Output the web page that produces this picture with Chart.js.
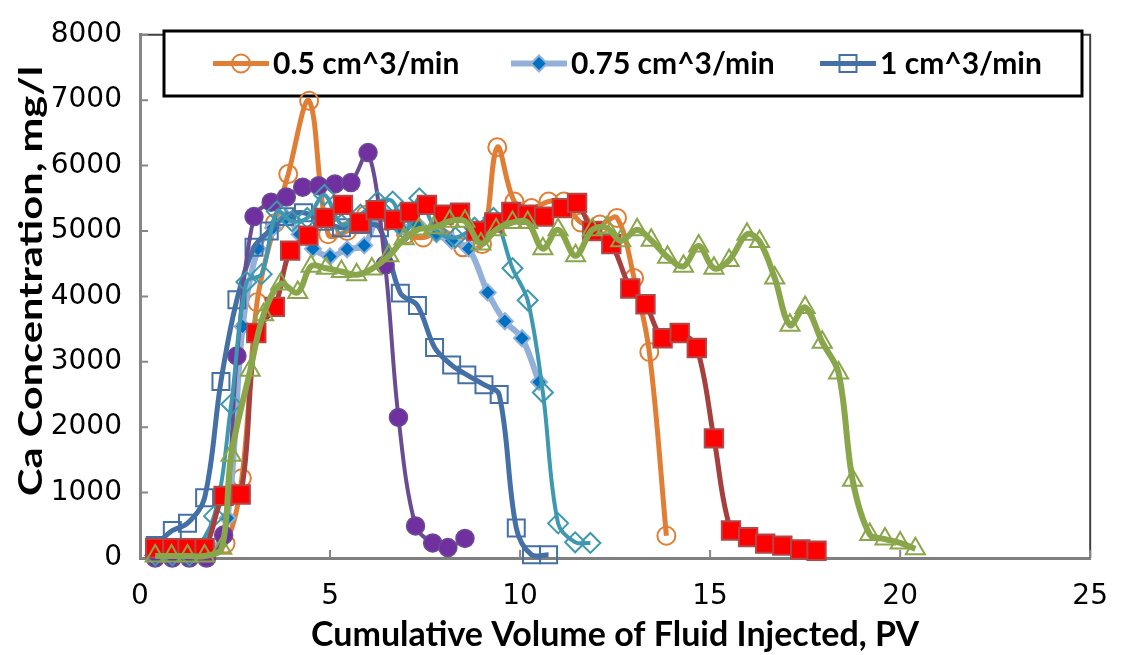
<!DOCTYPE html>
<html>
<head>
<meta charset="utf-8">
<title>Ca concentration vs PV</title>
<script src="https://cdn.jsdelivr.net/npm/chart.js@4.4.1/dist/chart.umd.min.js"></script>
<style>
  html, body { margin: 0; padding: 0; background: #fff; }
  #caChart { display: block; }
</style>
</head>
<body>
<canvas id="caChart" width="1130" height="655"></canvas>
<script>
// axis ticks
const xTicks = [0, 5, 10, 15, 20, 25];
const yTicks = [0, 1000, 2000, 3000, 4000, 5000, 6000, 7000, 8000];

const xTitle = 'Cumulative Volume of Fluid Injected, PV';
const yTitle = 'Ca Concentration, mg/l';

// legend names (only the first three runs are listed)
const rateLabels = ['0.5 cm^3/min', '0.75 cm^3/min', '1 cm^3/min'];

// 0.5 cm^3/min
const pvOrange = [0.4, 0.85, 1.3, 1.75, 2.25, 2.68, 3.08, 3.55, 3.9, 4.45, 4.95, 5.45, 5.95, 6.5, 7.0, 7.45, 8.0, 8.5, 9.0, 9.4, 9.85, 10.3, 10.75, 11.15, 11.6, 12.1, 12.55, 13.0, 13.4, 13.85];
const caOrange = [150, 150, 150, 150, 220, 1220, 3910, 5120, 5870, 6990, 4950, 5000, 5250, 5150, 4950, 4900, 5000, 4750, 4800, 6280, 5450, 5350, 5450, 5450, 5130, 5100, 5200, 4280, 3150, 340];

// 0.75 cm^3/min
const pvLight = [0.4, 0.85, 1.3, 1.85, 2.3, 2.7, 3.1, 3.5, 3.85, 4.2, 4.55, 5.0, 5.45, 5.9, 6.35, 6.85, 7.3, 7.8, 8.2, 8.65, 9.15, 9.6, 10.05, 10.5];
const caLight = [50, 50, 50, 80, 610, 3540, 4730, 5050, 5200, 4950, 4730, 4610, 4720, 4780, 5300, 5050, 5100, 4950, 4850, 4730, 4060, 3620, 3360, 2690];

// 1 cm^3/min
const pvDark = [0.4, 0.85, 1.25, 1.7, 2.13, 2.55, 3.0, 3.4, 3.8, 4.3, 4.8, 5.3, 5.8, 6.3, 6.85, 7.3, 7.75, 8.2, 8.6, 9.05, 9.45, 9.9, 10.3, 10.75];
const caDark = [190, 420, 530, 920, 2700, 3950, 4750, 5000, 5220, 5280, 5150, 5050, 5100, 5050, 4050, 3860, 3220, 2950, 2800, 2650, 2500, 460, 50, 50];

// further runs
const pvPurple = [0.4, 0.85, 1.3, 1.75, 2.2, 2.55, 3.0, 3.45, 3.85, 4.28, 4.7, 5.13, 5.55, 6.0, 6.45, 6.8, 7.25, 7.7, 8.1, 8.55];
const caPurple = [0, 0, 0, 0, 350, 3090, 5220, 5440, 5520, 5670, 5690, 5720, 5740, 6200, 4480, 2150, 490, 230, 160, 300];

const pvTeal = [0.4, 0.85, 1.3, 1.95, 2.4, 2.8, 3.2, 3.6, 4.0, 4.4, 4.85, 5.3, 5.8, 6.25, 6.65, 7.0, 7.35, 7.8, 8.3, 8.8, 9.3, 9.8, 10.2, 10.6, 11.0, 11.45, 11.85];
const caTeal = [40, 40, 40, 640, 2350, 4220, 4340, 5300, 5150, 5200, 5550, 5100, 5250, 5450, 5450, 5000, 5500, 5000, 4900, 5050, 5200, 4430, 3940, 2530, 530, 240, 230];

const pvRed = [0.4, 0.85, 1.25, 1.7, 2.2, 2.65, 3.06, 3.55, 3.95, 4.43, 4.86, 5.34, 5.78, 6.2, 6.69, 7.1, 7.55, 7.99, 8.42, 8.85, 9.32, 9.77, 10.2, 10.63, 11.1, 11.5, 11.9, 12.4, 12.9, 13.3, 13.75, 14.2, 14.65, 15.1, 15.55, 16.0, 16.45, 16.9, 17.37, 17.8];
const caRed = [150, 150, 150, 150, 950, 970, 3440, 3840, 4700, 4930, 5200, 5400, 5130, 5320, 5170, 5290, 5400, 5250, 5280, 5000, 5130, 5290, 5250, 5220, 5350, 5430, 5000, 4800, 4120, 3880, 3360, 3440, 3210, 1830, 420, 320, 220, 190, 130, 110];

const pvGreen = [0.4, 0.83, 1.25, 1.7, 2.15, 2.4, 2.9, 3.25, 3.7, 4.15, 4.5, 4.9, 5.3, 5.7, 6.1, 6.55, 6.95, 7.34, 7.73, 8.15, 8.55, 8.97, 9.37, 9.8, 10.2, 10.6, 11.0, 11.46, 11.9, 12.28, 12.65, 13.08, 13.45, 13.88, 14.3, 14.7, 15.1, 15.5, 15.97, 16.3, 16.7, 17.1, 17.5, 17.95, 18.38, 18.75, 19.2, 19.6, 20.0, 20.4];
const caGreen = [30, 30, 30, 30, 150, 1570, 2870, 3720, 4190, 4060, 4460, 4430, 4380, 4330, 4420, 4620, 4880, 5030, 5050, 5150, 5150, 4800, 5020, 5130, 5130, 4730, 5020, 4620, 5020, 5050, 4850, 5020, 4860, 4600, 4460, 4770, 4430, 4550, 4950, 4840, 4280, 3560, 3830, 3300, 2830, 1190, 360, 290, 230, 140];

const NONE = 'rgba(255,255,255,0)';

function pairs(xs, ys) {
    return xs.map((x, i) => ({ x: x, y: ys[i] }));
}

function series(label, xs, ys, line, width, style, radius, fill, edge, edgeWidth) {
    return {
        label: label,
        data: pairs(xs, ys),
        borderColor: line,
        borderWidth: width,
        pointStyle: style,
        pointRadius: radius,
        pointBackgroundColor: fill,
        pointBorderColor: edge,
        pointBorderWidth: edgeWidth,
        tension: 0.35,
        clip: false
    };
}

const datasets = [
    series(rateLabels[0], pvOrange, caOrange, '#E07E35', 5, 'circle', 9, NONE, '#E07E35', 2),
    series(rateLabels[1], pvLight, caLight, '#93B1D8', 6, 'rectRot', 8, '#0070C0', '#93B1D8', 2),
    series(rateLabels[2], pvDark, caDark, '#4470A6', 5, 'rect', 12, NONE, '#4470A6', 2),
    series('', pvPurple, caPurple, '#6A4C93', 4, 'circle', 9, '#7030A0', '#6A4C93', 1.5),
    series('', pvTeal, caTeal, '#3E98B0', 4, 'rectRot', 10, NONE, '#3E98B0', 2),
    series('', pvRed, caRed, '#A6403E', 5, 'rect', 13, '#FF0000', '#B04848', 2),
    series('', pvGreen, caGreen, '#89A64B', 6, 'triangle', 11, NONE, '#89A64B', 2)
];
// later runs sit on top
datasets.forEach((d, i) => { d.order = datasets.length - i; });

// frame on top/right and tick marks pointing into the plot
const plotFrame = {
    id: 'plotFrame',
    beforeDatasetsDraw(chart) {
        const { ctx, chartArea: a, scales } = chart;
        ctx.save();
        ctx.strokeStyle = '#404040';
        ctx.lineWidth = 2;
        ctx.beginPath();
        ctx.moveTo(a.left, a.top);
        ctx.lineTo(a.right, a.top);
        ctx.lineTo(a.right, a.bottom);
        ctx.stroke();

        ctx.strokeStyle = '#868686';
        ctx.lineWidth = 2;
        ctx.beginPath();
        yTicks.forEach(v => {
            const py = scales.y.getPixelForValue(v);
            ctx.moveTo(a.left, py);
            ctx.lineTo(a.left + 8, py);
        });
        xTicks.forEach(v => {
            const px = scales.x.getPixelForValue(v);
            ctx.moveTo(px, a.bottom);
            ctx.lineTo(px, a.bottom - 8);
        });
        ctx.stroke();
        ctx.restore();
    }
};

// boxed legend inside the plot area
const legendBox = {
    id: 'legendBox',
    beforeDatasetsDraw(chart) {
        const ctx = chart.ctx;
        const top = 31, h = 65, left = 164, w = 918;
        const cy = top + h / 2;
        const slots = [213, 511, 820];
        ctx.save();
        ctx.fillStyle = '#fff';
        ctx.fillRect(left, top, w, h);
        ctx.strokeStyle = '#000';
        ctx.lineWidth = 3;
        ctx.strokeRect(left, top, w, h);

        for (let i = 0; i < 3; i++) {
            const ds = chart.data.datasets[i];
            const sx = slots[i];
            ctx.strokeStyle = ds.borderColor;
            ctx.lineWidth = ds.borderWidth;
            ctx.beginPath();
            ctx.moveTo(sx, cy);
            ctx.lineTo(sx + 56, cy);
            ctx.stroke();

            ctx.fillStyle = ds.pointBackgroundColor;
            ctx.strokeStyle = ds.pointBorderColor;
            ctx.lineWidth = ds.pointBorderWidth;
            Chart.helpers.drawPoint(ctx, {
                pointStyle: ds.pointStyle,
                radius: ds.pointRadius,
                rotation: 0,
                borderWidth: ds.pointBorderWidth
            }, sx + 28, cy);

            ctx.fillStyle = '#000';
            ctx.font = 'bold 30px Lato';
            ctx.textBaseline = 'middle';
            ctx.textAlign = 'left';
            ctx.fillText(ds.label, sx + 60, cy + 1);
        }
        ctx.restore();
    }
};

// vertical axis title, stretched along its length
const yTitleDraw = {
    id: 'yTitleDraw',
    afterDraw(chart) {
        const ctx = chart.ctx;
        ctx.save();
        ctx.font = 'bold 33px Lato';
        const w = ctx.measureText(yTitle).width;
        ctx.translate(31, 281);
        ctx.rotate(-Math.PI / 2);
        ctx.scale(430 / w, 1);
        ctx.fillStyle = '#000';
        ctx.textAlign = 'center';
        ctx.textBaseline = 'middle';
        ctx.fillText(yTitle, 0, 0);
        ctx.restore();
    }
};

const tickFont = { family: 'DejaVu Sans', size: 28 };

new Chart(document.getElementById('caChart'), {
    type: 'line',
    data: { datasets: datasets },
    options: {
        responsive: false,
        animation: false,
        devicePixelRatio: 1,
        layout: { padding: { top: 20, right: 30, left: 0, bottom: 0 } },
        plugins: {
            legend: { display: false },
            tooltip: { enabled: false }
        },
        scales: {
            x: {
                type: 'linear',
                min: 0,
                max: 25,
                afterBuildTicks: s => { s.ticks = xTicks.map(v => ({ value: v })); },
                afterFit: s => { s.height = 97; },
                grid: { display: false, drawTicks: false },
                border: { display: true, color: '#7F7F7F', width: 3 },
                ticks: { font: tickFont, color: '#000', padding: 22, maxRotation: 0, callback: v => String(v) },
                title: {
                    display: true,
                    text: xTitle,
                    font: { family: 'Lato', size: 34, weight: 'bold' },
                    color: '#000',
                    padding: { top: 0, bottom: 0 }
                }
            },
            y: {
                type: 'linear',
                min: 0,
                max: 8000,
                afterBuildTicks: s => { s.ticks = yTicks.map(v => ({ value: v })); },
                afterFit: s => { s.width = 140; },
                grid: { display: false, drawTicks: false },
                border: { display: true, color: '#868686', width: 3 },
                ticks: { font: tickFont, color: '#000', padding: 18, callback: v => String(v) },
                title: { display: false }
            }
        }
    },
    plugins: [plotFrame, legendBox, yTitleDraw]
});
</script>
</body>
</html>
